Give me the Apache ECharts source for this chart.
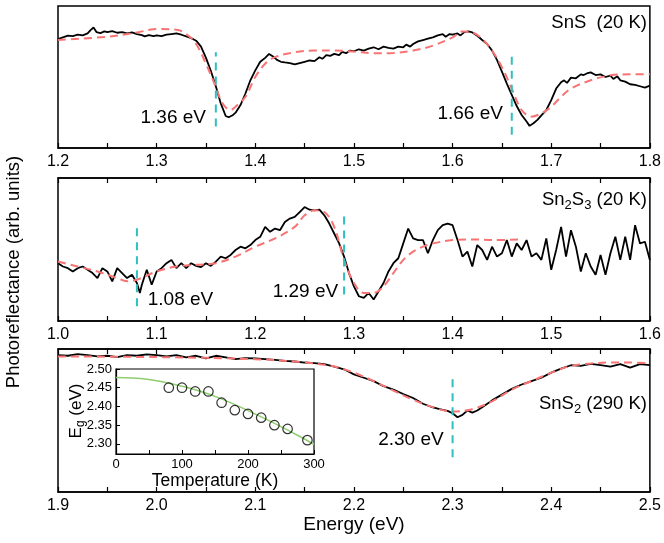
<!DOCTYPE html>
<html>
<head>
<meta charset="utf-8">
<script src="https://cdn.jsdelivr.net/npm/echarts@6/dist/echarts.min.js"></script>
<style>html,body{margin:0;padding:0;background:#fff}#c{width:664px;height:543px}</style>
</head>
<body>
<div id="c"></div>
<script>
// ---------- DATA ----------
// Panel 1: SnS (20 K), energy (eV) vs photoreflectance (arb. units)
const snsSpectrum = [[1.200,335],[1.205,340],[1.210,345],[1.215,344],[1.220,348],[1.225,346],[1.230,352],[1.233,362],[1.236,370],[1.239,356],[1.243,353],[1.247,358],[1.250,356],[1.255,359],[1.260,354],[1.265,356],[1.270,352],[1.275,355],[1.280,350],[1.285,347],[1.288,343],[1.292,347],[1.297,344],[1.300,346],[1.305,344],[1.310,348],[1.315,350],[1.320,352],[1.325,348],[1.330,343],[1.335,338],[1.340,330],[1.345,312],[1.350,278],[1.355,238],[1.360,192],[1.365,140],[1.370,102],[1.373,98],[1.377,104],[1.380,112],[1.385,135],[1.390,170],[1.395,210],[1.400,240],[1.405,266],[1.410,278],[1.414,290],[1.418,282],[1.422,272],[1.426,266],[1.430,264],[1.435,262],[1.440,258],[1.445,262],[1.450,266],[1.455,270],[1.460,268],[1.465,280],[1.468,275],[1.472,286],[1.476,284],[1.480,290],[1.485,286],[1.488,296],[1.492,292],[1.496,300],[1.500,298],[1.505,304],[1.510,300],[1.515,306],[1.520,310],[1.525,304],[1.530,312],[1.535,308],[1.540,306],[1.545,312],[1.550,310],[1.553,318],[1.557,312],[1.560,320],[1.565,328],[1.570,332],[1.575,336],[1.580,340],[1.585,346],[1.590,350],[1.593,342],[1.597,350],[1.600,348],[1.605,352],[1.608,346],[1.612,356],[1.616,358],[1.620,355],[1.625,345],[1.630,332],[1.635,320],[1.640,300],[1.645,272],[1.650,236],[1.655,200],[1.660,166],[1.665,132],[1.670,105],[1.675,85],[1.678,72],[1.682,80],[1.686,90],[1.690,104],[1.695,120],[1.700,150],[1.705,185],[1.710,204],[1.713,210],[1.716,202],[1.720,218],[1.725,216],[1.730,228],[1.733,226],[1.737,232],[1.740,234],[1.745,226],[1.750,228],[1.755,220],[1.760,224],[1.763,214],[1.767,222],[1.770,210],[1.775,206],[1.780,198],[1.785,196],[1.790,192],[1.795,188],[1.800,194]];
const snsFit = [[1.20,332],[1.25,342],[1.28,355],[1.30,365],[1.32,363],[1.33,350],[1.34,320],[1.35,260],[1.36,190],[1.365,150],[1.37,128],[1.375,120],[1.38,130],[1.39,160],[1.40,220],[1.41,260],[1.42,280],[1.44,295],[1.46,300],[1.48,300],[1.50,297],[1.52,292],[1.54,293],[1.56,300],[1.58,315],[1.60,340],[1.61,358],[1.62,355],[1.63,335],[1.64,300],[1.65,250],[1.66,185],[1.67,120],[1.68,100],[1.69,110],[1.70,130],[1.71,160],[1.72,185],[1.74,210],[1.76,225],[1.78,228],[1.80,228]];
const snsGaps = [1.36, 1.66];
const snsGapSpan = [[70, 295], [45, 285]];
const snsGapLabels = ['1.36 eV', '1.66 eV'];

// Panel 2: Sn2S3 (20 K)
const sn2s3Spectrum = [[1.000,180],[1.005,170],[1.010,165],[1.015,155],[1.020,165],[1.025,170],[1.030,160],[1.035,150],[1.040,135],[1.045,165],[1.050,155],[1.055,125],[1.060,165],[1.065,150],[1.070,135],[1.075,145],[1.080,120],[1.083,90],[1.085,115],[1.090,160],[1.095,115],[1.100,155],[1.105,165],[1.110,180],[1.115,190],[1.120,165],[1.125,180],[1.130,165],[1.135,180],[1.140,172],[1.145,168],[1.150,180],[1.155,172],[1.160,185],[1.165,200],[1.170,195],[1.175,205],[1.180,220],[1.185,230],[1.190,225],[1.195,235],[1.200,250],[1.205,260],[1.210,290],[1.215,275],[1.220,285],[1.225,280],[1.230,305],[1.235,315],[1.240,320],[1.245,335],[1.250,350],[1.255,342],[1.260,340],[1.265,342],[1.270,325],[1.275,300],[1.280,270],[1.285,240],[1.290,200],[1.295,150],[1.300,110],[1.305,80],[1.310,75],[1.315,90],[1.320,70],[1.325,95],[1.330,120],[1.335,155],[1.340,180],[1.345,195],[1.350,240],[1.355,285],[1.360,255],[1.365,250],[1.370,250],[1.375,210],[1.380,250],[1.385,280],[1.390,295],[1.395,300],[1.400,295],[1.405,250],[1.410,200],[1.415,215],[1.420,170],[1.425,235],[1.430,220],[1.435,190],[1.440,230],[1.445,200],[1.450,210],[1.455,250],[1.460,200],[1.465,240],[1.470,220],[1.475,250],[1.480,200],[1.485,210],[1.490,190],[1.495,255],[1.500,160],[1.505,220],[1.510,290],[1.515,200],[1.520,280],[1.525,230],[1.530,155],[1.535,210],[1.540,170],[1.545,145],[1.550,205],[1.555,145],[1.560,210],[1.565,260],[1.570,190],[1.575,260],[1.580,190],[1.585,295],[1.590,240],[1.595,245],[1.600,190]];
const sn2s3Fit = [[1.00,185],[1.02,170],[1.04,155],[1.06,135],[1.07,125],[1.08,130],[1.10,155],[1.12,170],[1.14,175],[1.16,180],[1.18,200],[1.20,230],[1.22,255],[1.24,290],[1.25,325],[1.26,340],[1.27,335],[1.28,290],[1.29,190],[1.30,120],[1.31,90],[1.32,90],[1.33,110],[1.34,150],[1.35,190],[1.36,215],[1.37,230],[1.38,240],[1.40,250],[1.42,252],[1.44,250],[1.47,252]];
const sn2s3Gaps = [1.08, 1.29];
const sn2s3GapSpan = [[50, 290], [85, 325]];
const sn2s3GapLabels = ['1.08 eV', '1.29 eV'];

// Panel 3: SnS2 (290 K)
const sns2Spectrum = [[1.90,412],[1.91,410],[1.92,415],[1.93,412],[1.94,408],[1.95,410],[1.96,406],[1.97,412],[1.98,410],[1.99,414],[2.00,412],[2.01,408],[2.02,412],[2.03,405],[2.04,410],[2.05,402],[2.06,410],[2.07,405],[2.08,400],[2.09,403],[2.10,402],[2.11,400],[2.12,398],[2.13,395],[2.14,393],[2.15,390],[2.16,388],[2.17,385],[2.18,378],[2.19,370],[2.20,355],[2.21,345],[2.22,335],[2.23,320],[2.24,310],[2.25,297],[2.26,285],[2.27,268],[2.28,257],[2.29,250],[2.295,247],[2.30,240],[2.305,228],[2.31,235],[2.315,248],[2.32,242],[2.325,248],[2.33,258],[2.34,278],[2.35,295],[2.36,312],[2.37,325],[2.38,335],[2.39,345],[2.40,360],[2.41,372],[2.42,382],[2.43,380],[2.44,386],[2.45,382],[2.46,378],[2.47,385],[2.48,375],[2.49,385],[2.50,382]];
const sns2Fit = [[1.90,408],[2.00,406],[2.10,400],[2.15,390],[2.18,378],[2.20,360],[2.22,335],[2.24,307],[2.26,280],[2.28,258],[2.30,245],[2.32,252],[2.34,275],[2.36,310],[2.38,335],[2.40,360],[2.42,380],[2.44,387],[2.46,390],[2.48,390],[2.50,388]];
const sns2Gaps = [2.30];
const sns2GapSpan = [[110, 350]];
const sns2GapLabels = ['2.30 eV'];

// Inset: band gap vs temperature
const tempK = [80,100,120,140,160,180,200,220,240,260,290];
const gapEV = [2.45,2.45,2.44,2.44,2.41,2.39,2.38,2.37,2.35,2.34,2.31];
const fitTempK = [0,25,50,75,100,125,150,175,200,225,250,275,300];
const fitGapEV = [2.477,2.476,2.472,2.464,2.454,2.442,2.427,2.409,2.389,2.368,2.346,2.323,2.299];
const insetYTicks = [2.30,2.35,2.40,2.45,2.50];

// ---------- CHART ----------
const FONT = '"Liberation Sans", Arial, sans-serif';
const BLACK = '#000';
const RED = '#f87474';
const CYAN = '#2fbfbf';
const GREEN = '#90cc72';
const ANN = 19;   // gap annotation font size
const LAB = 18.5; // panel label font size
const TICK = 16;  // tick label font size

const chart = echarts.init(document.getElementById('c'), null, {renderer: 'canvas'});

const L = 58, W = 597;
const grids = [
  {left: L, top: 6, width: W, height: 142},
  {left: L, top: 178, width: W, height: 143},
  {left: L, top: 349, width: W, height: 143},
  {left: 116, top: 369, width: 198, height: 85}
].map(g => Object.assign({show: true, borderColor: BLACK, borderWidth: 1.5, backgroundColor: 'rgba(0,0,0,0)'}, g));
grids[3].backgroundColor = '#fff';
grids[3].borderWidth = 1.2;

function energyAxis(gridIndex, min, max, pos, labels) {
  return {
    type: 'value', gridIndex, min, max, interval: 0.1, position: pos,
    axisLine: {show: true, lineStyle: {color: BLACK, width: 1.5}},
    axisTick: {show: true, inside: true, length: 5, lineStyle: {color: BLACK, width: 1.2}},
    minorTick: {show: true, splitNumber: 2, length: 5, lineStyle: {color: BLACK, width: 1.2}},
    splitLine: {show: false},
    axisLabel: {show: labels, color: BLACK, fontSize: TICK, fontFamily: FONT, margin: 6,
      formatter: v => v.toFixed(1)}
  };
}

const xAxes = [
  energyAxis(0, 1.2, 1.8, 'bottom', true),
  energyAxis(1, 1.0, 1.6, 'bottom', true),
  Object.assign(energyAxis(2, 1.9, 2.5, 'bottom', true), {
    name: 'Energy (eV)', nameLocation: 'middle', nameGap: 23,
    nameTextStyle: {color: BLACK, fontSize: 19, fontFamily: FONT}
  }),
  energyAxis(1, 1.0, 1.6, 'top', false),
  energyAxis(2, 1.9, 2.5, 'top', false),
  {
    type: 'value', gridIndex: 3, min: 0, max: 300, interval: 100,
    axisLine: {show: true, lineStyle: {color: BLACK, width: 1.2}},
    axisTick: {show: true, inside: true, length: 4, lineStyle: {color: BLACK}},
    minorTick: {show: true, splitNumber: 2, length: 4, lineStyle: {color: BLACK}},
    splitLine: {show: false},
    axisLabel: {color: BLACK, fontSize: 13, fontFamily: FONT, margin: 4},
    name: 'Temperature (K)', nameLocation: 'middle', nameGap: 18,
    nameTextStyle: {color: BLACK, fontSize: 17.5, fontFamily: FONT}
  }
];

const yAxes = [
  {type: 'value', gridIndex: 0, min: 5, max: 435, show: false},
  {type: 'value', gridIndex: 1, min: 5, max: 438, show: false},
  {type: 'value', gridIndex: 2, min: 7, max: 430, show: false},
  {
    type: 'value', gridIndex: 3, min: 2.273, max: 2.5,
    axisLine: {show: true, lineStyle: {color: BLACK, width: 1.2}},
    axisTick: {show: true, inside: true, length: 4, customValues: insetYTicks, lineStyle: {color: BLACK}},
    splitLine: {show: false},
    axisLabel: {color: BLACK, fontSize: 13, fontFamily: FONT, margin: 4,
      customValues: insetYTicks, formatter: v => v.toFixed(2)}
  }
];

function spectrum(idx, data) {
  return {type: 'line', xAxisIndex: idx, yAxisIndex: idx, data, showSymbol: false, symbol: 'none',
    lineStyle: {color: BLACK, width: 1.8}, z: 3, silent: true};
}
function fit(idx, data) {
  return {type: 'line', xAxisIndex: idx, yAxisIndex: idx, data, showSymbol: false, symbol: 'none', smooth: 0.35,
    lineStyle: {color: RED, width: 2, type: [8, 5]}, z: 4, silent: true};
}
function gapLines(idx, xs, spans) {
  return xs.map((x, i) => ({
    type: 'line', xAxisIndex: idx, yAxisIndex: idx, showSymbol: false, symbol: 'none',
    data: [[x, spans[i][0]], [x, spans[i][1]]],
    lineStyle: {color: CYAN, width: 2, type: [8, 6]}, z: 5, silent: true
  }));
}

const series = [
  spectrum(0, snsSpectrum), fit(0, snsFit), ...gapLines(0, snsGaps, snsGapSpan),
  spectrum(1, sn2s3Spectrum), fit(1, sn2s3Fit), ...gapLines(1, sn2s3Gaps, sn2s3GapSpan),
  spectrum(2, sns2Spectrum), fit(2, sns2Fit), ...gapLines(2, sns2Gaps, sns2GapSpan),
  {type: 'line', xAxisIndex: 5, yAxisIndex: 3, showSymbol: false, symbol: 'none', smooth: true,
   data: fitTempK.map((t, i) => [t, fitGapEV[i]]), lineStyle: {color: GREEN, width: 1.5}, z: 6, silent: true},
  {type: 'scatter', xAxisIndex: 5, yAxisIndex: 3, symbol: 'circle', symbolSize: 9.5,
   data: tempK.map((t, i) => [t, gapEV[i]]),
   itemStyle: {color: 'rgba(0,0,0,0)', borderColor: BLACK, borderWidth: 1.2}, z: 7, silent: true}
];

chart.setOption({animation: false, grid: grids, xAxis: xAxes, yAxis: yAxes, series});

// ---------- annotations (anchored to data coordinates) ----------
function px(idx, x, y) { return chart.convertToPixel({xAxisIndex: idx, yAxisIndex: idx}, [x, y]); }
function txt(idx, x, y, text, align, size, rich) {
  const p = px(idx, x, y);
  const style = {text, align, verticalAlign: 'middle', fill: BLACK, fontFamily: FONT, fontSize: size};
  if (rich) style.rich = {
    n: {fontSize: size, fontFamily: FONT, lineHeight: 24, verticalAlign: 'middle', fill: BLACK, color: BLACK},
    s: {fontSize: 13, fontFamily: FONT, lineHeight: 14, verticalAlign: 'bottom', fill: BLACK, color: BLACK}
  };
  return {type: 'text', x: p[0], y: p[1], style, z: 10};
}

const graphic = [
  txt(0, 1.350, 96, snsGapLabels[0], 'right', ANN),
  txt(0, 1.651, 108, snsGapLabels[1], 'right', ANN),
  txt(0, 1.797, 383, 'SnS  (20 K)', 'right', LAB),
  txt(1, 1.091, 69, sn2s3GapLabels[0], 'left', ANN),
  txt(1, 1.284, 93, sn2s3GapLabels[1], 'right', ANN),
  txt(1, 1.597, 371, '{n|Sn}{s|2}{n|S}{s|3}{n| (20 K)}', 'right', LAB, true),
  txt(2, 2.291, 161, sns2GapLabels[0], 'right', ANN),
  txt(2, 2.497, 268, '{n|SnS}{s|2}{n| (290 K)}', 'right', LAB, true),
  {type: 'text', x: 14, y: 272, rotation: Math.PI / 2, z: 10,
   style: {text: 'Photoreflectance (arb. units)', fill: BLACK, fontFamily: FONT, fontSize: 18.5, align: 'center', verticalAlign: 'middle'}},
  {type: 'text', x: 76, y: 411, rotation: Math.PI / 2, z: 10,
   style: {text: '{n|E}{s|g}{n| (eV)}', fill: BLACK, fontFamily: FONT, fontSize: 17, align: 'center', verticalAlign: 'middle',
     rich: {n: {fontSize: 17, fontFamily: FONT, lineHeight: 22, verticalAlign: 'middle', fill: BLACK},
            s: {fontSize: 12, fontFamily: FONT, lineHeight: 13, verticalAlign: 'bottom', fill: BLACK}}}}
];
chart.setOption({graphic});
</script>
</body>
</html>
